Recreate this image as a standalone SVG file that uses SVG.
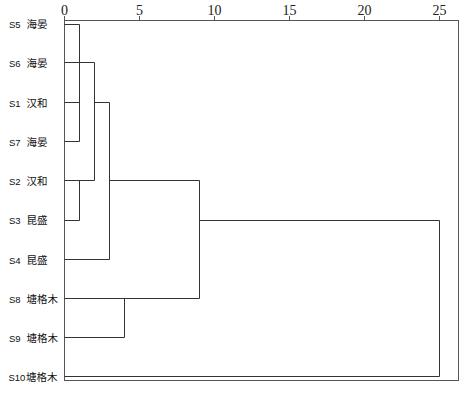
<svg xmlns="http://www.w3.org/2000/svg" width="473" height="397" viewBox="0 0 473 397">
<style>
.ax{fill:none;stroke:#555;stroke-width:1}
.ln{fill:none;stroke:#333;stroke-width:1}
.tk{font-family:"Liberation Serif",serif;font-size:14px;fill:#222;text-anchor:middle}
.lb{font-family:"Liberation Sans","Noto Sans CJK SC",sans-serif;font-size:9.5px;fill:#111}
.cn{font-size:10.5px}
</style>
<rect width="473" height="397" fill="#fff"/>
<g id="axis">
<rect class="ax" x="64.5" y="20.5" width="394" height="360"/>
<path class="ax" d="M64.5,16V20.5M139.5,16V20.5M214.5,16V20.5M289.5,16V20.5M364.5,16V20.5M439.5,16V20.5"/>
<text class="tk" x="64.5" y="15">0</text>
<text class="tk" x="139.5" y="15">5</text>
<text class="tk" x="214.5" y="15">10</text>
<text class="tk" x="289.5" y="15">15</text>
<text class="tk" x="364.5" y="15">20</text>
<text class="tk" x="439.5" y="15">25</text>
</g>
<g id="S5"><text class="lb" x="9" y="28">S5 <tspan class="cn" x="26.5">海晏</tspan></text></g>
<g id="S6"><text class="lb" x="9" y="67">S6 <tspan class="cn" x="26.5">海晏</tspan></text></g>
<g id="S1"><text class="lb" x="9" y="106.5">S1 <tspan class="cn" x="26.5">汉和</tspan></text></g>
<g id="S7"><text class="lb" x="9" y="145.5">S7 <tspan class="cn" x="26.5">海晏</tspan></text></g>
<g id="S2"><text class="lb" x="9" y="185">S2 <tspan class="cn" x="26.5">汉和</tspan></text></g>
<g id="S3"><text class="lb" x="9" y="224">S3 <tspan class="cn" x="26.5">昆盛</tspan></text></g>
<g id="S4"><text class="lb" x="9" y="263.5">S4 <tspan class="cn" x="26.5">昆盛</tspan></text></g>
<g id="S8"><text class="lb" x="9" y="302.5">S8 <tspan class="cn" x="26.5">塘格木</tspan></text></g>
<g id="S9"><text class="lb" x="9" y="341.5">S9 <tspan class="cn" x="26.5">塘格木</tspan></text></g>
<g id="S10"><text class="lb" x="8.5" y="381">S10<tspan class="cn" x="26">塘格木</tspan></text></g>
<g id="connectors">
<path class="ln" d="M64.5,24.5H79.5M64.5,62.5H94.5M64.5,102.5H79.5M94.5,102.5H109.5M64.5,141.5H79.5M64.5,180.5H94.5M109.5,180.5H199.5M64.5,220.5H79.5M199.5,220.5H439.5M64.5,259.5H109.5M64.5,298.5H199.5M64.5,337.5H124.5M64.5,376.5H439.5"/>
<path class="ln" d="M79.5,24.5V141.5M94.5,62.5V180.5M109.5,102.5V259.5M79.5,180.5V220.5M199.5,180.5V298.5M124.5,298.5V337.5M439.5,220.5V376.5"/>
</g>
</svg>
